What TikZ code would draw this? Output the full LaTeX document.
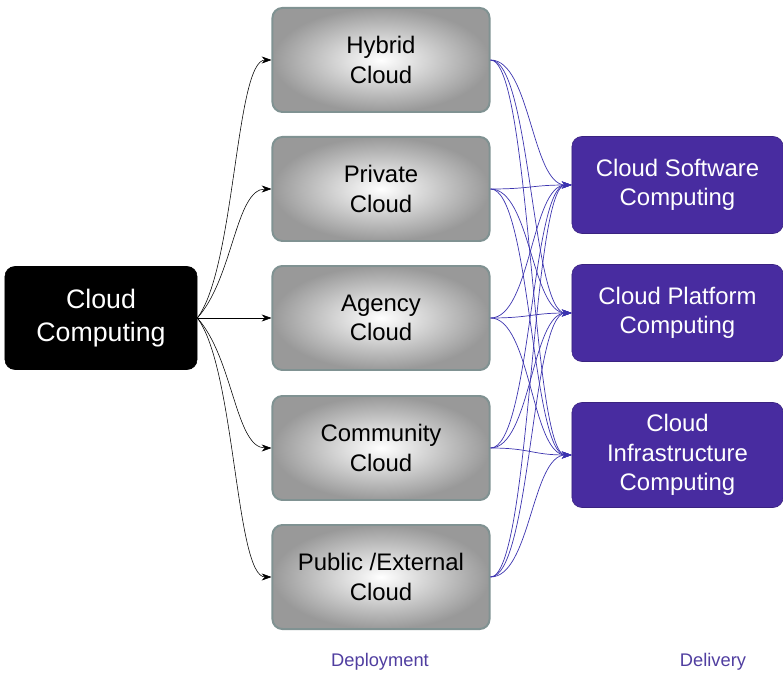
\documentclass[tikz,border=0pt]{standalone}
\usepackage{fontspec}
\setmainfont{Liberation Sans}
\usetikzlibrary{arrows.meta}
\definecolor{cloudpurple}{RGB}{72,44,160}
\definecolor{deployrim}{RGB}{128,146,146}
\definecolor{linkblue}{RGB}{60,52,175}
\definecolor{labelpurple}{RGB}{80,62,160}
\tikzset{
  rootbox/.style={draw=black,fill=black,text=white,rounded corners=7pt,
    minimum width=4.8cm,minimum height=2.575cm,align=center,
    font=\fontsize{19}{23}\selectfont},
  deploybox/.style={draw=deployrim,line width=1.4pt,rounded corners=7pt,
    inner color=white,outer color=gray!80,
    minimum width=5.425cm,minimum height=2.6cm,align=center,
    font=\fontsize{17}{21}\selectfont},
  deliverbox/.style={draw=cloudpurple!80!black,fill=cloudpurple,text=white,
    rounded corners=7pt,minimum width=5.275cm,minimum height=2.425cm,
    align=center,font=\fontsize{17}{21}\selectfont},
  rootlink/.style={-{Stealth[length=7pt,width=5pt]},black,thin},
  deliverlink/.style={-{Stealth[length=7pt,width=5pt]},linkblue,line width=0.5pt}
}
\begin{document}
\begin{tikzpicture}[x=0.025cm,y=-0.025cm]
\useasboundingbox (0,0) rectangle (783,675);
% source
\node[rootbox] (cc) at (101,318) {Cloud\\Computing};
% deployment models
\node[deploybox] (hybrid) at (381,60) {Hybrid\\Cloud};
\node[deploybox] (private) at (381,189) {Private\\Cloud};
\node[deploybox] (agency) at (381,318) {Agency\\Cloud};
\node[deploybox] (community) at (381,448) {Community\\Cloud};
\node[deploybox] (public) at (381,577) {Public /External\\Cloud};
% delivery models
\node[deliverbox] (software) at (677.5,185) {Cloud Software\\Computing};
\node[deliverbox] (platform) at (677.5,313) {Cloud Platform\\Computing};
\node[deliverbox,minimum height=2.625cm] (infra) at (677.5,455) {Cloud\\Infrastructure\\Computing};
% captions
\node[text=labelpurple,font=\fontsize{13}{15}\selectfont] (deploylabel) at (380,662) {Deployment};
\node[text=labelpurple,font=\fontsize{13}{15}\selectfont] (deliverlabel) at (713,662) {Delivery};
% links from the source
\draw[rootlink] (cc.east) .. controls +(38,-50) and +(-36,0) .. (hybrid.west);
\draw[rootlink] (cc.east) .. controls +(36,-40) and +(-36,0) .. (private.west);
\draw[rootlink] (cc.east) -- (agency.west);
\draw[rootlink] (cc.east) .. controls +(36,40) and +(-36,0) .. (community.west);
\draw[rootlink] (cc.east) .. controls +(38,50) and +(-36,0) .. (public.west);
% links to delivery
\foreach \dep in {hybrid,private,agency,community,public}
  \foreach \del in {software,platform,infra}
    \draw[deliverlink] (\dep.east) .. controls +(40,0) and +(-40,0) .. (\del.west);
\end{tikzpicture}
\end{document}
